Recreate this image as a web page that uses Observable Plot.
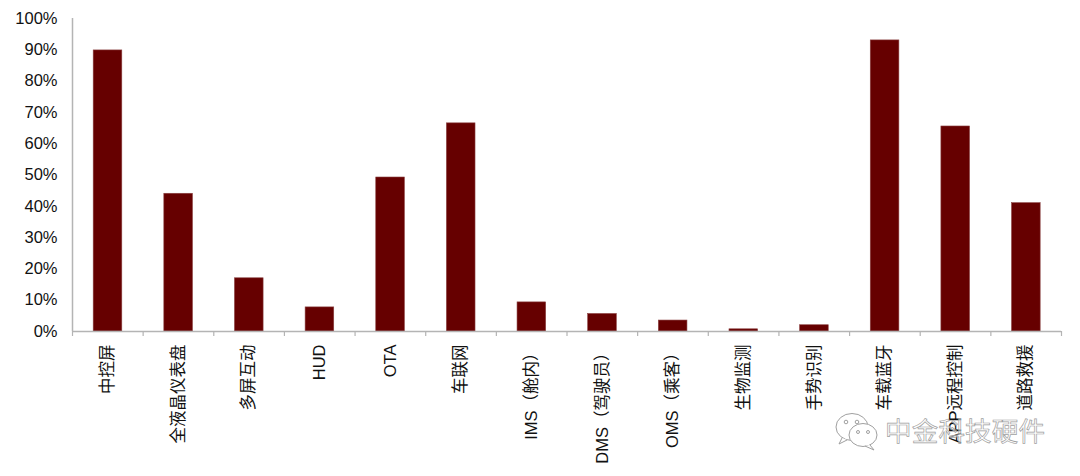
<!DOCTYPE html>
<html><head><meta charset="utf-8">
<script src="https://cdn.jsdelivr.net/npm/d3@7"></script>
<script src="https://cdn.jsdelivr.net/npm/@observablehq/plot@0.6"></script>
<style>
html,body{margin:0;padding:0;background:#fff;width:1080px;height:476px;overflow:hidden}
#wrap{position:relative;width:1080px;height:476px}
#mark{position:absolute;left:885px;top:411px;font:26.5px "Noto Sans CJK SC";color:rgba(255,255,255,.55);-webkit-text-stroke:0.7px #a0a0a0;letter-spacing:0.2px;line-height:38px;white-space:nowrap}
#icon{position:absolute;left:830px;top:408px}
</style></head><body><div id="wrap"></div>
<script>
const categories = ["中控屏","全液晶仪表盘","多屏互动","HUD","OTA","车联网","IMS（舱内）","DMS（驾驶员）","OMS（乘客）","生物监测","手势识别","车载蓝牙","APP远程控制","道路救援"];
const shares = [0.898,0.44,0.17,0.077,0.492,0.665,0.093,0.056,0.035,0.007,0.02,0.93,0.655,0.41];
const yTicks = [0,0.1,0.2,0.3,0.4,0.5,0.6,0.7,0.8,0.9,1];
const xBoundaries = d3.range(categories.length + 1);
const table = categories.map((c,i)=>({c,i,v:shares[i]}));
const font = '"Liberation Sans","Noto Sans CJK SC",sans-serif';
const axisColor = "#b4b4b4";
const chart = Plot.plot({
  width:1080,height:476,marginLeft:72,marginRight:19,marginTop:18,marginBottom:145,
  style:{fontFamily:font,fontSize:"16.5px",background:"#fff",color:"#111"},
  x:{type:"linear",domain:[0,categories.length]},
  y:{type:"linear",domain:[0,1]},
  marks:[
    Plot.rectY(table,{x1:d=>d.i+0.3,x2:d=>d.i+0.705,y1:0,y2:"v",fill:"#660000",stroke:"#8a4040",strokeWidth:0.6}),
    Plot.ruleY([0],{stroke:axisColor,strokeWidth:1.5}),
    Plot.ruleX([0],{stroke:axisColor,strokeWidth:1.5}),
    Plot.axisX({ticks:xBoundaries,tickFormat:()=>"",tickSize:5,stroke:axisColor,strokeWidth:1.2,label:null}),
    Plot.axisY({ticks:yTicks,tickFormat:d=>Math.round(d*100)+"%",tickSize:0,tickPadding:15,label:null,fontSize:16.5,fill:"#111"}),
    Plot.text(table,{x:d=>d.i+0.5,y:()=>0,text:"c",rotate:-90,textAnchor:"end",dy:13,fontSize:16.5,fill:"#111"})
  ]
});
document.getElementById("wrap").appendChild(chart);
const m=document.createElement("div");m.id="mark";m.textContent="中金科技硬件";document.getElementById("wrap").appendChild(m);
const ic=document.createElement("div");ic.id="icon";
ic.innerHTML='<svg width="50" height="44" fill="#fff" stroke="#a0a0a0" stroke-width="1"><ellipse cx="22" cy="19" rx="16" ry="13.5"/><path d="M12 30l-3 6 8-4"/><ellipse cx="16" cy="14" rx="1.8" ry="1.8"/><ellipse cx="27" cy="14" rx="1.8" ry="1.8"/><ellipse cx="33" cy="27" rx="14" ry="11.5"/><path d="M40 37l4 5-9-4"/><ellipse cx="28" cy="24" rx="1.5" ry="1.5"/><ellipse cx="38" cy="24" rx="1.5" ry="1.5"/></svg>';
document.getElementById("wrap").appendChild(ic);
</script></body></html>
